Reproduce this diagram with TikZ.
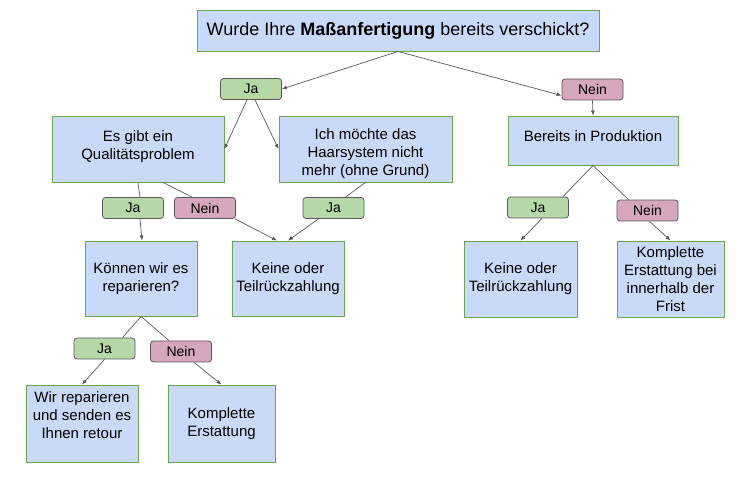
\documentclass[tikz,border=0pt]{standalone}
\usepackage{fontspec}
\setmainfont{Liberation Sans}
\usetikzlibrary{arrows.meta}
\definecolor{boxblue}{HTML}{C9DAF8}
\definecolor{boxgreen}{HTML}{6AA84F}
\definecolor{jagreen}{HTML}{B6D7A8}
\definecolor{neinpink}{HTML}{D5A6BD}
\definecolor{linegray}{HTML}{595959}

\begin{document}
\begin{tikzpicture}[x=1pt, y=-1pt,
  qbox/.style={draw=boxgreen, line width=0.9pt, fill=boxblue, inner sep=0pt,
               align=center, font=\fontsize{15}{18}\selectfont},
  ans/.style={draw=linegray, line width=0.8pt, rounded corners=3pt, inner sep=0pt,
              minimum width=61pt, minimum height=21pt, font=\fontsize{14}{16}\selectfont},
  ja/.style={ans, fill=jagreen},
  nein/.style={ans, fill=neinpink},
  link/.style={draw=linegray, line width=0.7pt},
  arr/.style={link, -{Latex[length=5pt,width=4pt]}}
]
\useasboundingbox (0,0) rectangle (737,486);
% Question
\node[qbox, minimum width=402pt, minimum height=41pt, font=\fontsize{18}{21}\selectfont]
  (frage) at (398,30.5) {Wurde Ihre \textbf{Maßanfertigung} bereits verschickt?};
\node[ja] (ja1) at (251,89) {Ja};
\node[nein] (nein1) at (592.5,89.5) {Nein};
% Ja branch
\node[qbox, minimum width=172pt, minimum height=66pt] (qual) at (138,149) {Es gibt ein\\Qualitätsproblem\rule[-7pt]{0pt}{0pt}};
\node[qbox, minimum width=173pt, minimum height=66pt] (haar) at (365.5,149) {\rule{0pt}{21pt}Ich möchte das\\Haarsystem nicht\\mehr (ohne Grund)};
\node[ja] (ja2) at (133,208) {Ja};
\node[nein] (nein2) at (205,208) {Nein};
\node[ja] (ja3) at (333.5,208) {Ja};
\node[qbox, minimum width=112pt, minimum height=75pt] (rep) at (141,278.5) {Können wir es\\reparieren?};
\node[qbox, minimum width=112pt, minimum height=75pt] (keine1) at (288,278.5) {Keine oder\\Teilrückzahlung};
\node[ja] (ja5) at (104.5,348.5) {Ja};
\node[nein] (nein5) at (181,351.5) {Nein};
\node[qbox, minimum width=112pt, minimum height=77pt] (retour) at (82,423.5) {Wir reparieren\\und senden es\\Ihnen retour\rule[-17pt]{0pt}{0pt}};
\node[qbox, minimum width=107pt, minimum height=77pt] (erst1) at (221.5,423.5) {Komplette\\Erstattung};
% Nein branch
\node[qbox, minimum width=170pt, minimum height=49pt] (prod) at (593,140.5) {Bereits in Produktion\rule[-8pt]{0pt}{0pt}};
\node[ja] (ja4) at (538,207.5) {Ja};
\node[nein] (nein4) at (647.5,210.5) {Nein};
\node[qbox, minimum width=113pt, minimum height=76pt] (keine2) at (520.5,279) {Keine oder\\Teilrückzahlung};
\node[qbox, minimum width=107pt, minimum height=76pt] (erst2) at (670.5,279) {Komplette\\Erstattung bei\\innerhalb der\\Frist};
% Connectors
\draw[arr] (frage.south) -- (ja1.east);
\draw[arr] (frage.south) -- ([yshift=-6pt]nein1.west);
\draw[arr] ([xshift=-4pt]ja1.south) -- (qual.east);
\draw[arr] ([xshift=4pt]ja1.south) -- (haar.west);
\draw[arr] (nein1.south) -- (prod.north);
\draw[link] (qual.south) -- ([xshift=7pt]ja2.north);
\draw[arr] ([xshift=7pt]ja2.south) -- ([xshift=1pt]rep.north);
\draw[link] ([xshift=25pt]qual.south) -- ([xshift=-13pt]nein2.north);
\draw[arr] ([xshift=30pt]nein2.south) -- ([xshift=-11pt]keine1.north);
\draw[link] (haar.south) -- ([xshift=12pt]ja3.north);
\draw[arr] ([xshift=-15pt]ja3.south) -- (keine1.north);
\draw[link] (prod.south) -- ([xshift=25pt]ja4.north);
\draw[arr] ([xshift=4pt]ja4.south) -- (keine2.north);
\draw[link] (prod.south) -- ([xshift=-19pt]nein4.north);
\draw[arr] ([xshift=2pt]nein4.south) -- (erst2.north);
\draw[link] (rep.south) -- ([xshift=18pt]ja5.north);
\draw[arr] (ja5.south) -- (retour.north);
\draw[link] (rep.south) -- ([xshift=-12pt]nein5.north);
\draw[arr] ([xshift=13pt]nein5.south) -- (erst1.north);
\end{tikzpicture}
\end{document}
